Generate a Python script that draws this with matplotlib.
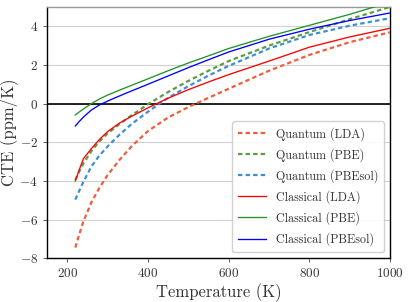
import matplotlib
matplotlib.use("Agg")
import matplotlib.pyplot as plt

plt.rcParams['font.family'] = 'serif'
plt.rcParams['font.serif'] = ['cmr10', 'DejaVu Serif']
plt.rcParams['mathtext.fontset'] = 'cm'
plt.rcParams['axes.formatter.use_mathtext'] = True

T = [220, 230, 240, 260, 280, 300, 330, 360, 400, 450, 500, 550, 600, 700, 800, 900, 1000]

q_lda = [-7.45, -6.75, -6.10, -5.10, -4.35, -3.70, -2.90, -2.20, -1.42, -0.72, -0.18, 0.30, 0.77, 1.70, 2.52, 3.18, 3.69]
q_pbe = [-3.95, -3.50, -3.10, -2.45, -1.95, -1.55, -1.05, -0.60, -0.03, 0.60, 1.17, 1.70, 2.20, 3.00, 3.70, 4.37, 5.00]
q_pbesol = [-4.97, -4.50, -4.05, -3.25, -2.68, -2.22, -1.60, -1.05, -0.42, 0.30, 0.90, 1.45, 1.95, 2.85, 3.55, 4.03, 4.42]
c_lda = [-4.00, -3.42, -2.85, -2.33, -1.85, -1.45, -1.00, -0.65, -0.22, 0.28, 0.72, 1.12, 1.50, 2.20, 2.92, 3.45, 3.90]
c_pbe = [-0.59, -0.43, -0.28, 0.00, 0.24, 0.44, 0.70, 0.95, 1.28, 1.70, 2.10, 2.47, 2.85, 3.48, 4.05, 4.62, 5.25]
c_pbesol = [-1.16, -0.92, -0.70, -0.33, -0.07, 0.13, 0.40, 0.66, 1.00, 1.43, 1.86, 2.27, 2.67, 3.33, 3.85, 4.30, 4.69]

labels = ['Quantum (LDA)', 'Quantum (PBE)', 'Quantum (PBEsol)',
          'Classical (LDA)', 'Classical (PBE)', 'Classical (PBEsol)']

fig = plt.figure(figsize=(4.09, 3.02), dpi=100)
ax = fig.add_axes([0.115, 0.145, 0.839, 0.832])

ax.axhline(0, color='black', lw=1.2, zorder=1)
dash = (2.0, 1.4)
ax.plot(T, q_lda, color='#f25c3a', lw=1.6, dashes=dash, label=labels[0], zorder=3)
ax.plot(T, q_pbe, color='#5c9c46', lw=1.6, dashes=dash, label=labels[1], zorder=3)
ax.plot(T, q_pbesol, color='#3f8fd2', lw=1.6, dashes=dash, label=labels[2], zorder=3)
ax.plot(T, c_lda, color='red', lw=0.95, label=labels[3], zorder=4)
ax.plot(T, c_pbe, color='#22922a', lw=0.95, label=labels[4], zorder=4)
ax.plot(T, c_pbesol, color='blue', lw=0.95, label=labels[5], zorder=4)

ax.set_xlim(150, 1000)
ax.set_ylim(-8, 5)
ax.set_xticks([200, 400, 600, 800, 1000])
ax.set_yticks([-8, -6, -4, -2, 0, 2, 4])
ax.yaxis.grid(True, color='#d0d0d0', lw=0.8)
ax.set_axisbelow(True)
ax.tick_params(labelsize=9.5, colors='#444444', length=3, width=0.6)
ax.tick_params(axis='both', labelcolor='#333333')
ax.spines['top'].set_color('#999999')
ax.spines['top'].set_linewidth(1.0)
for s in ['left', 'bottom', 'right']:
    ax.spines[s].set_linewidth(1.0)
ax.set_xlabel('Temperature (K)', fontsize=12, color='#333333', labelpad=2)
ax.set_ylabel('CTE (ppm/K)', fontsize=12, color='#333333', labelpad=1)

leg = ax.legend(loc='lower right', fontsize=8.7, handlelength=2.3, labelspacing=0.6,
                borderpad=0.5, framealpha=0.9)
for t in leg.get_texts():
    t.set_color('#333333')

fig.savefig('out.png', dpi=100)
